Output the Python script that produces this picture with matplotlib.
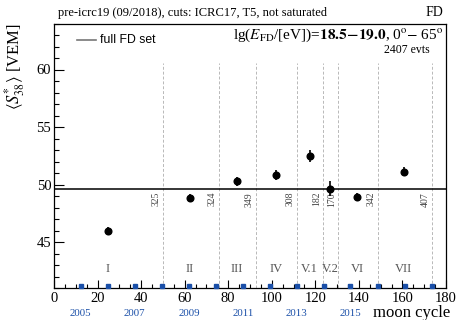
import matplotlib
matplotlib.use('Agg')
import matplotlib.pyplot as plt

plt.rcParams['font.family'] = ['Liberation Serif', 'DejaVu Serif']
plt.rcParams['mathtext.fontset'] = 'stix'

# period data
periods = ['I', 'II', 'III', 'IV', 'V.1', 'V.2', 'VI', 'VII']
cycle_mid = [24.7, 62.5, 84.0, 102.1, 117.4, 126.9, 139.3, 160.6]
s38 = [45.96, 48.80, 50.29, 50.84, 52.46, 49.63, 48.94, 51.13]
s38_err = [0.36, 0.36, 0.40, 0.43, 0.52, 0.65, 0.36, 0.39]
period_end = [50.0, 75.6, 92.8, 111.4, 123.7, 130.5, 148.6, 173.4]
n_events = [325, 324, 349, 308, 182, 170, 342, 407]
full_mean = 49.6

# start of each year in moon cycles
year_cycle = [12.3, 24.7, 37.1, 49.6, 62.1, 74.5, 86.8, 99.3, 111.5,
              123.8, 136.1, 148.6, 161.0, 173.4]
years = list(range(2005, 2019))
labelled_years = [2005, 2007, 2009, 2011, 2013, 2015]

fig = plt.figure(figsize=(4.58, 3.2), dpi=100)
ax = fig.add_axes([54/458, 1-288/320, 392/458, (288-23.5)/320])
ax.set_xlim(0, 180)
ax.set_ylim(41, 64)

# period boundaries
for xb in period_end:
    ax.plot([xb, xb], [41, 60.6], color='#b8b8b8', lw=0.7, ls=(0, (3, 2)), zorder=1)
for xb, n in zip(period_end, n_events):
    ax.annotate(str(n), xy=(xb, 49.35), xytext=(-1.5, 0), textcoords='offset points',
                rotation=90, ha='right', va='top', fontsize=7, color='#444444')

ax.axhline(full_mean, color='black', lw=1.1, zorder=2)

ax.errorbar(cycle_mid, s38, yerr=s38_err, fmt='o', color='black', ms=4.8,
            elinewidth=1.2, capsize=0, zorder=3)

for xm, p in zip(cycle_mid, periods):
    ax.text(xm, 42.65, p, ha='center', va='center', fontsize=9, color='#555555')

# year markers
ax.plot(year_cycle, [41.2]*len(year_cycle), 's', color='#1a4fa8', ms=3.2,
        clip_on=False, zorder=4)
for yc, yr in zip(year_cycle, years):
    if yr in labelled_years:
        ax.text(yc, -0.095, str(yr), transform=ax.get_xaxis_transform(),
                ha='center', va='center', fontsize=7.8, color='#1a4fa8')

# legend
ax.plot([10.5, 19.5], [62.6, 62.6], color='#777777', lw=1.2)
ax.text(21, 62.6, 'full FD set', fontsize=8.8, va='center', family='Liberation Sans')

ax.text(0.993, 0.955,
        r'lg($E_{\mathrm{FD}}$/[eV])=$\mathbf{18.5\!-\!19.0}$, 0$^{\mathrm{o}}$$-$ 65$^{\mathrm{o}}$',
        transform=ax.transAxes, ha='right', va='center', fontsize=11)
ax.text(0.957, 0.898, '2407 evts', transform=ax.transAxes, ha='right',
        va='center', fontsize=8.5)

fig.text(58/458, 1-13/320, 'pre-icrc19 (09/2018), cuts: ICRC17, T5, not saturated',
         ha='left', va='center', fontsize=9)
fig.text(443/458, 1-13/320, 'FD', ha='right', va='center', fontsize=10)
fig.text(373/458, 1-313/320, 'moon cycle', ha='left', va='center', fontsize=12)

ax.set_ylabel(r'$\langle S_{38}^{*}\rangle$ [VEM]', fontsize=12)
ax.yaxis.set_label_coords(-0.1, 1.0)
ax.yaxis.label.set_va('center')
ax.yaxis.label.set_ha('right')

ax.set_xticks(range(0, 181, 20))
ax.set_xticks(range(0, 181, 5), minor=True)
ax.set_yticks([45, 50, 55, 60])
ax.set_yticks(range(41, 65), minor=True)
ax.tick_params(axis='both', which='both', direction='in', top=False, right=False,
               labelsize=10.5, width=0.8)
ax.tick_params(axis='x', which='major', length=6, pad=3)
ax.tick_params(axis='x', which='minor', length=3)
ax.tick_params(axis='y', which='major', length=7.5, pad=2)
ax.tick_params(axis='y', which='minor', length=3.8)
for s in ax.spines.values():
    s.set_linewidth(0.9)

fig.savefig('out.png', dpi=100)
